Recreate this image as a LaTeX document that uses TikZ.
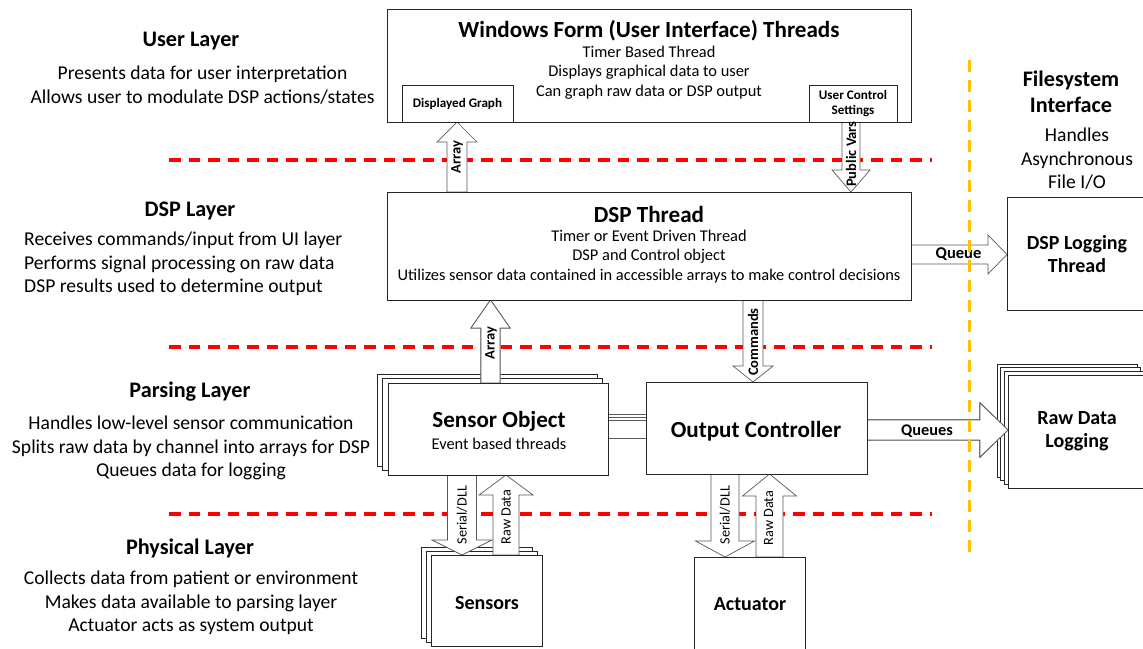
\documentclass[tikz,border=0pt]{standalone}
\usepackage{fontspec}
\setmainfont{Carlito}
\usetikzlibrary{calc}

\definecolor{fsorange}{RGB}{255,192,0}
\definecolor{layerred}{RGB}{255,0,0}

% vertical block arrow: [options]{tail}{tip}{shaft half width}{head half width}{head length}
\newcommand\vblock[6][]{%
  \draw[barrow,#1] let \p1=(#2), \p2=(#3), \n1={ifthenelse(\y2>\y1,1,-1)*#6} in
    ({\x1-#4},\y1) -- ({\x1-#4},{\y2-(\n1)}) -- ({\x1-#5},{\y2-(\n1)}) -- (\x1,\y2)
    -- ({\x1+#5},{\y2-(\n1)}) -- ({\x1+#4},{\y2-(\n1)}) -- ({\x1+#4},\y1) -- cycle;}
% horizontal block arrow, same arguments
\newcommand\hblock[6][]{%
  \draw[barrow,#1] let \p1=(#2), \p2=(#3), \n1={ifthenelse(\x2>\x1,1,-1)*#6} in
    (\x1,{\y1-#4}) -- ({\x2-(\n1)},{\y1-#4}) -- ({\x2-(\n1)},{\y1-#5}) -- (\x2,\y1)
    -- ({\x2-(\n1)},{\y1+#5}) -- ({\x2-(\n1)},{\y1+#4}) -- (\x1,{\y1+#4}) -- cycle;}

\tikzset{
  box/.style={draw=black!85, fill=white, line width=0.8pt, inner sep=0pt, outer sep=0pt},
  place/.style={inner sep=0pt, outer sep=0pt},
  barrow/.style={draw=black!65, fill=white, line width=0.7pt, line join=miter},
  layerline/.style={draw=layerred, line width=3.2pt, dash pattern=on 11.5pt off 8pt},
  fsline/.style={draw=fsorange, line width=3pt, dash pattern=on 12pt off 8pt},
  heading/.style={font=\fontsize{22.2}{26}\selectfont\bfseries, align=center, inner sep=0pt},
  body/.style={font=\fontsize{19.6}{23.3}\selectfont, align=center, inner sep=0pt},
  title/.style={font=\fontsize{23.1}{27}\selectfont\bfseries, inner sep=0pt},
  sub/.style={font=\fontsize{16.4}{19.5}\selectfont, align=center, inner sep=0pt},
  boxlabel/.style={font=\fontsize{20}{23}\selectfont\bfseries, align=center, inner sep=0pt},
  smalllabel/.style={font=\fontsize{13.1}{15}\selectfont\bfseries, align=center, inner sep=0pt},
  arrlabel/.style={font=\fontsize{14.5}{16}\selectfont\bfseries, inner sep=0pt},
  arrlabelthin/.style={font=\fontsize{14.2}{16}\selectfont, inner sep=0pt},
}

\begin{document}
\begin{tikzpicture}[x=1pt,y=-1pt]
\useasboundingbox (0,0) rectangle (1143,648);

% layer separators
\draw[layerline] (169,160) -- (932,160);
\draw[layerline] (169,347) -- (932,347);
\draw[layerline] (169,514) -- (932,514);

% back sheets of the stacked boxes
\node[box, minimum width=220pt, minimum height=92pt] (sobjb2) at (487,420) {};
\node[box, minimum width=220pt, minimum height=92pt] (sobjb1) at (492.5,424.5) {};
\node[box, minimum width=111pt, minimum height=91pt] (sensb2) at (476.5,592.5) {};
\node[box, minimum width=111pt, minimum height=91pt] (sensb1) at (481.5,596.5) {};
\node[box, minimum width=140pt, minimum height=113pt] (rawb3) at (1067,420.5) {};
\node[box, minimum width=140pt, minimum height=113pt] (rawb2) at (1070.7,424.2) {};
\node[box, minimum width=140pt, minimum height=113pt] (rawb1) at (1074.3,427.8) {};

% box positions (the framed boxes are drawn after the arrows)
\node[place, minimum width=524pt, minimum height=113pt] (ui) at (649,65.5) {};
\node[place, minimum width=111pt, minimum height=37pt] (graph) at (457.5,103.5) {};
\node[place, minimum width=88pt, minimum height=37pt] (ucs) at (853,103.5) {};
\node[place, minimum width=524pt, minimum height=108pt] (dsp) at (649,246) {};
\node[place, minimum width=140pt, minimum height=113pt] (dsplog) at (1077,253.5) {};
\node[place, minimum width=220pt, minimum height=92pt] (sobj) at (498,429) {};
\node[place, minimum width=221pt, minimum height=92pt] (oc) at (756.5,428) {};
\node[place, minimum width=140pt, minimum height=113pt] (raw) at (1078,431.5) {};
\node[place, minimum width=111pt, minimum height=91pt] (sens) at (486.5,600.5) {};
\node[place, minimum width=111pt, minimum height=93pt] (act) at (749.5,603.5) {};

% guide lines for the arrow axes
\coordinate (gArr) at (457,0);
\coordinate (gPub) at (851,0);
\coordinate (gCmd) at (753,0);
\coordinate (gSer1) at (462,0);
\coordinate (gRaw1) at (506,0);
\coordinate (gSer2) at (725,0);
\coordinate (gRaw2) at (769.5,0);
\coordinate (gSArr) at (490.5,0);
\coordinate (gQueue) at (0,254.5);
\coordinate (gQueues) at (0,430);

\coordinate (sarrtail) at (gSArr |- sobj.north);
\coordinate (sarrtip) at (gSArr |- dsp.south);
\coordinate (qtail) at (oc.east |- gQueues);
\coordinate (qtip) at (raw.west |- gQueues);

% block arrows
\vblock{gArr |- dsp.north}{gArr |- graph.south}{10}{20}{20}
\vblock{gPub |- ucs.south}{gPub |- dsp.north}{9}{19}{22}
\hblock{dsp.east |- gQueue}{dsplog.west |- gQueue}{9.5}{19.5}{19}

\vblock[shift={(-6,-6)}]{sarrtail}{sarrtip}{9.5}{19.5}{28}
\vblock[shift={(-3,-3)}]{sarrtail}{sarrtip}{9.5}{19.5}{28}
\vblock{sarrtail}{sarrtip}{9.5}{19.5}{28}

\vblock{gCmd |- dsp.south}{gCmd |- oc.north}{10}{20}{16}

% sensor object to output controller link
\draw[barrow] ([shift={(-4,-15)}]sobj.east) rectangle ([shift={(4,4)}]oc.west);
\draw[barrow] ([shift={(-4,-12)}]sobj.east) rectangle ([shift={(4,7)}]oc.west);
\draw[barrow] ([shift={(-4,-9)}]sobj.east) rectangle ([shift={(4,10)}]oc.west);

\hblock[shift={(-9,-9)}]{qtail}{qtip}{10}{27}{28}
\hblock[shift={(-6,-6)}]{qtail}{qtip}{10}{27}{28}
\hblock[shift={(-3,-3)}]{qtail}{qtip}{10}{27}{28}
\hblock{qtail}{qtip}{10}{27}{28}

\vblock{gSer1 |- sobj.south}{gSer1 |- sens.north}{14.5}{30}{15}
\vblock{gRaw1 |- sens.north}{gRaw1 |- sobj.south}{13}{27}{20}
\vblock{gSer2 |- oc.south}{gSer2 |- act.north}{14}{29.5}{16}
\vblock{gRaw2 |- act.north}{gRaw2 |- oc.south}{13.5}{27}{22}

% framed boxes
\node[box, minimum width=524pt, minimum height=113pt] (uif) at (ui) {};
\node[box, minimum width=111pt, minimum height=37pt] (graphf) at (graph) {};
\node[box, minimum width=88pt, minimum height=37pt] (ucsf) at (ucs) {};
\node[box, minimum width=524pt, minimum height=108pt] (dspf) at (dsp) {};
\node[box, minimum width=140pt, minimum height=113pt] (dsplogf) at (dsplog) {};
\node[box, minimum width=220pt, minimum height=92pt] (sobjf) at (sobj) {};
\node[box, minimum width=221pt, minimum height=92pt] (ocf) at (oc) {};
\node[box, minimum width=140pt, minimum height=113pt] (rawf) at (raw) {};
\node[box, minimum width=111pt, minimum height=91pt] (sensf) at (sens) {};
\node[box, minimum width=111pt, minimum height=93pt] (actf) at (act) {};

% box texts
\node[title] (uit) at (649,31) {Windows Form (User Interface) Threads};
\node[sub] (uis) at (649,72.5) {Timer Based Thread\\Displays graphical data to user\\Can graph raw data or DSP output};
\node[smalllabel] (grapht) at (457.5,104) {Displayed Graph};
\node[smalllabel] (ucst) at (853,103.5) {User Control\\Settings};
\node[title] (dspt) at (649,214) {DSP Thread};
\node[sub] (dsps) at (649,256.5) {Timer or Event Driven Thread\\DSP and Control object\\Utilizes sensor data contained in accessible arrays to make control decisions};
\node[boxlabel] (dsplogt) at (1077,254.5) {DSP Logging\\Thread};
\node[title] (sobjt) at (499,421) {Sensor Object};
\node[sub] (sobjs) at (499,443.5) {Event based threads};
\node[title] (oct) at (756,431) {Output Controller};
\node[boxlabel] (rawt) at (1077,431.5) {Raw Data\\Logging};
\node[boxlabel] (senst) at (487,603) {Sensors};
\node[boxlabel] (actt) at (750,604) {Actuator};

% arrow labels
\node[arrlabel, rotate=90] (l1) at (457,157) {Array};
\node[arrlabel, rotate=90] (l2) at (851,154) {Public Vars};
\node[arrlabel, font=\fontsize{16.5}{18}\selectfont\bfseries] (l3) at (958.5,254.5) {Queue};
\node[arrlabel, rotate=90] (l4) at (491,343) {Array};
\node[arrlabel, rotate=90] (l5) at (753,342) {Commands};
\node[arrlabel, font=\fontsize{16.3}{18}\selectfont\bfseries] (l6) at (927,431) {Queues};
\node[arrlabelthin, rotate=90] (l7) at (462,515) {Serial/DLL};
\node[arrlabelthin, rotate=90] (l8) at (506,517) {Raw Data};
\node[arrlabelthin, rotate=90] (l9) at (725,515) {Serial/DLL};
\node[arrlabelthin, rotate=90] (l10) at (768.5,518) {Raw Data};

% layer descriptions
\node[heading] (h1) at (191,41) {User Layer};
\node[body] (b1) at (202.5,85) {Presents data for user interpretation\\Allows user to modulate DSP actions/states};
\node[heading] (h2) at (190,211) {DSP Layer};
\node[body, align=left, anchor=west] (b2) at (24,264) {Receives commands/input from UI layer\\Performs signal processing on raw data\\DSP results used to determine output};
\node[heading] (h3) at (190,392) {Parsing Layer};
\node[body] (b3) at (191,448) {Handles low-level sensor communication\\Splits raw data by channel into arrays for DSP\\Queues data for logging};
\node[heading] (h4) at (190,548) {Physical Layer};
\node[body] (b4) at (191,603) {Collects data from patient or environment\\Makes data available to parsing layer\\Actuator acts as system output};

% filesystem side
\node[heading] (fsh) at (1071,92) {Filesystem\\Interface};
\node[body, font=\fontsize{19.6}{23.5}\selectfont] (fsb) at (1077,159) {Handles\\Asynchronous\\File I/O};

% filesystem boundary
\draw[fsline] (969,60) -- (969,556);
\end{tikzpicture}
\end{document}
